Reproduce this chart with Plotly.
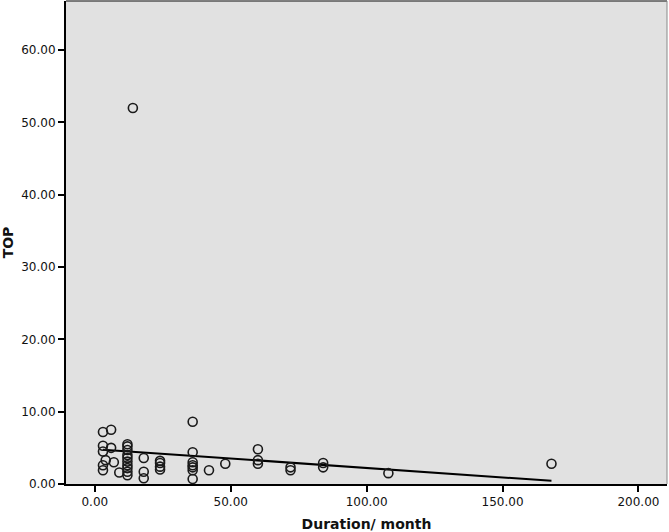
import plotly.graph_objects as go

# Duration (months) and TOP values
duration = [3, 6, 3, 6, 3, 4, 7, 3, 3, 9,
            12, 12, 12, 12, 12, 12, 12, 12, 12, 12,
            14,
            18, 18, 18,
            24, 24, 24, 24,
            36, 36, 36, 36, 36, 36, 36,
            42, 48,
            60, 60, 60,
            72, 72,
            84, 84,
            108, 168]
top = [7.2, 7.5, 5.3, 5.0, 4.5, 3.3, 3.0, 2.6, 1.9, 1.6,
       5.5, 5.2, 4.7, 4.0, 3.6, 3.1, 2.6, 2.2, 1.7, 1.2,
       52.0,
       3.6, 1.7, 0.8,
       3.2, 2.9, 2.4, 2.0,
       8.6, 4.4, 3.0, 2.6, 2.3, 1.9, 0.7,
       1.9, 2.8,
       4.8, 3.3, 2.8,
       2.3, 1.9,
       2.9, 2.3,
       1.5, 2.8]

fit_intercept = 4.83
fit_slope = -0.0261

x_ticks = [0, 50, 100, 150, 200]
x_tick_labels = ["0.00", "50.00", "100.00", "150.00", "200.00"]
y_ticks = [0, 10, 20, 30, 40, 50, 60]
y_tick_labels = ["0.00", "10.00", "20.00", "30.00", "40.00", "50.00", "60.00"]

fit_x = [min(duration), max(duration)]
fit_y = [fit_intercept + fit_slope * v for v in fit_x]

fig = go.Figure()
fig.add_trace(go.Scatter(
    x=fit_x, y=fit_y, mode="lines",
    line=dict(color="black", width=2), showlegend=False, hoverinfo="skip"))
fig.add_trace(go.Scatter(
    x=duration, y=top, mode="markers",
    marker=dict(symbol="circle-open", size=9, color="#1a1a1a",
                line=dict(width=1.6, color="#1a1a1a")),
    showlegend=False))

font_fam = "DejaVu Sans"
fig.update_layout(
    width=669, height=532,
    margin=dict(l=64, r=2, t=1, b=47),
    paper_bgcolor="white",
    plot_bgcolor="#e1e1e1",
    font=dict(family=font_fam, size=12, color="#111"),
    xaxis=dict(
        range=[-10.6, 210.5], tickvals=x_ticks, ticktext=x_tick_labels,
        showgrid=False, zeroline=False, ticks="outside", ticklen=6,
        tickwidth=1.5, tickcolor="black", showline=True, linecolor="black",
        linewidth=2, mirror=False, tickfont=dict(size=12, color="#111"),
        title=dict(text="<b>Duration/ month</b>", font=dict(size=14, family=font_fam),
                   standoff=12),
    ),
    yaxis=dict(
        range=[0, 66.8], tickvals=y_ticks, ticktext=y_tick_labels,
        showgrid=False, zeroline=False, ticks="outside", ticklen=6,
        tickwidth=1.5, tickcolor="black", showline=True, linecolor="black",
        linewidth=2, mirror=False, tickfont=dict(size=12, color="#111"),
        title=dict(text="<b>TOP</b>", font=dict(size=14, family=font_fam),
                   standoff=10),
    ),
    shapes=[
        dict(type="line", xref="paper", yref="paper", x0=0, x1=1, y0=1, y1=1,
             line=dict(color="#555", width=1.5)),
        dict(type="line", xref="paper", yref="paper", x0=1, x1=1, y0=0, y1=1,
             line=dict(color="#888", width=1)),
    ],
)

fig.write_html("out.html")
